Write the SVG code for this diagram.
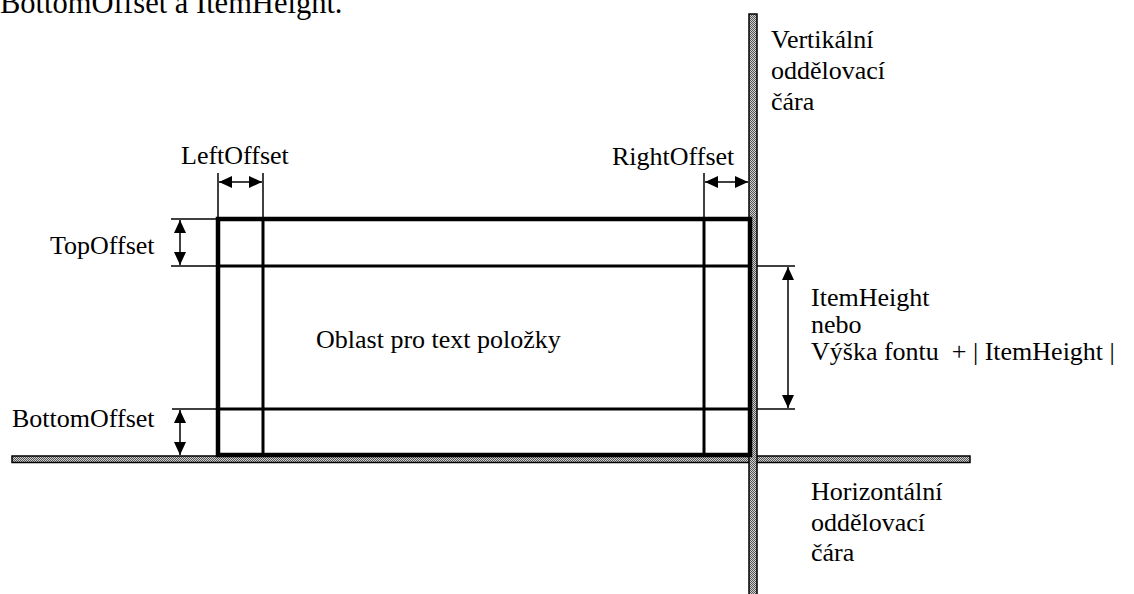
<svg xmlns="http://www.w3.org/2000/svg" width="1134" height="594" viewBox="0 0 1134 594">
<style>
text{font-family:"Liberation Serif","Times New Roman",serif;font-size:26px;fill:#000}
.thick{stroke:#000;stroke-width:4.5;fill:none}
.inner{stroke:#000;stroke-width:3;fill:none}
.ext{stroke:#000;stroke-width:1.5;fill:none}
.dim{stroke:#000;stroke-width:1.5;fill:none;marker-start:url(#ah);marker-end:url(#ah)}
.sep{fill:url(#hatch);stroke:#000;stroke-width:1.5}
</style>
<defs>
<pattern id="hatch" width="2" height="2" patternUnits="userSpaceOnUse">
<rect width="2" height="2" fill="#d0d0d0"/>
<rect width="1" height="1" fill="#555"/>
<rect x="1" y="1" width="1" height="1" fill="#555"/>
</pattern>
<marker id="ah" markerUnits="userSpaceOnUse" markerWidth="14" markerHeight="12" refX="13" refY="6" orient="auto-start-reverse">
<path d="M0,0 L13,6 L0,12 Z" fill="#000"/>
</marker>
</defs>
<text x="0" y="13" style="font-size:30.5px">BottomOffset a ItemHeight.</text>
<g id="separators">
<rect id="hsep" class="sep" x="12" y="456" width="958" height="6.5"/>
<rect id="vsep" class="sep" x="749" y="14" width="8" height="590"/>
</g>
<g id="item-rect">
<rect class="thick" x="218" y="219" width="532" height="236"/>
<line class="inner" x1="263" y1="219" x2="263" y2="455"/>
<line class="inner" x1="704" y1="219" x2="704" y2="455"/>
<line class="inner" x1="218" y1="266" x2="750" y2="266"/>
<line class="inner" x1="218" y1="409" x2="750" y2="409"/>
<text x="316" y="348">Oblast pro text položky</text>
</g>
<g id="connectors">
<line class="ext" x1="218" y1="173" x2="218" y2="219"/>
<line class="ext" x1="263" y1="173" x2="263" y2="219"/>
<line class="dim" x1="219" y1="182" x2="262" y2="182"/>
<line class="ext" x1="704" y1="173" x2="704" y2="219"/>
<line class="dim" x1="705" y1="182" x2="748" y2="182"/>
<line class="ext" x1="171" y1="219" x2="218" y2="219"/>
<line class="ext" x1="171" y1="266" x2="218" y2="266"/>
<line class="dim" x1="180" y1="220" x2="180" y2="265"/>
<line class="ext" x1="172" y1="409" x2="218" y2="409"/>
<line class="dim" x1="180" y1="410" x2="180" y2="455"/>
<line class="ext" x1="757" y1="266" x2="795" y2="266"/>
<line class="ext" x1="757" y1="409" x2="795" y2="409"/>
<line class="dim" x1="788" y1="267" x2="788" y2="408"/>
</g>
<g id="label-left"><text x="181" y="164">LeftOffset</text></g>
<g id="label-right"><text x="612" y="165">RightOffset</text></g>
<g id="label-top"><text x="50" y="254">TopOffset</text></g>
<g id="label-bottom"><text x="12" y="427">BottomOffset</text></g>
<g id="label-itemheight">
<text x="811" y="306">ItemHeight</text>
<text x="811" y="333">nebo</text>
<text x="811" y="360" xml:space="preserve">Výška fontu  + | ItemHeight |</text>
</g>
<g id="label-vsep">
<text x="771" y="48">Vertikální</text>
<text x="771" y="79">oddělovací</text>
<text x="771" y="110">čára</text>
</g>
<g id="label-hsep">
<text x="811" y="500">Horizontální</text>
<text x="811" y="531">oddělovací</text>
<text x="811" y="561">čára</text>
</g>
</svg>
